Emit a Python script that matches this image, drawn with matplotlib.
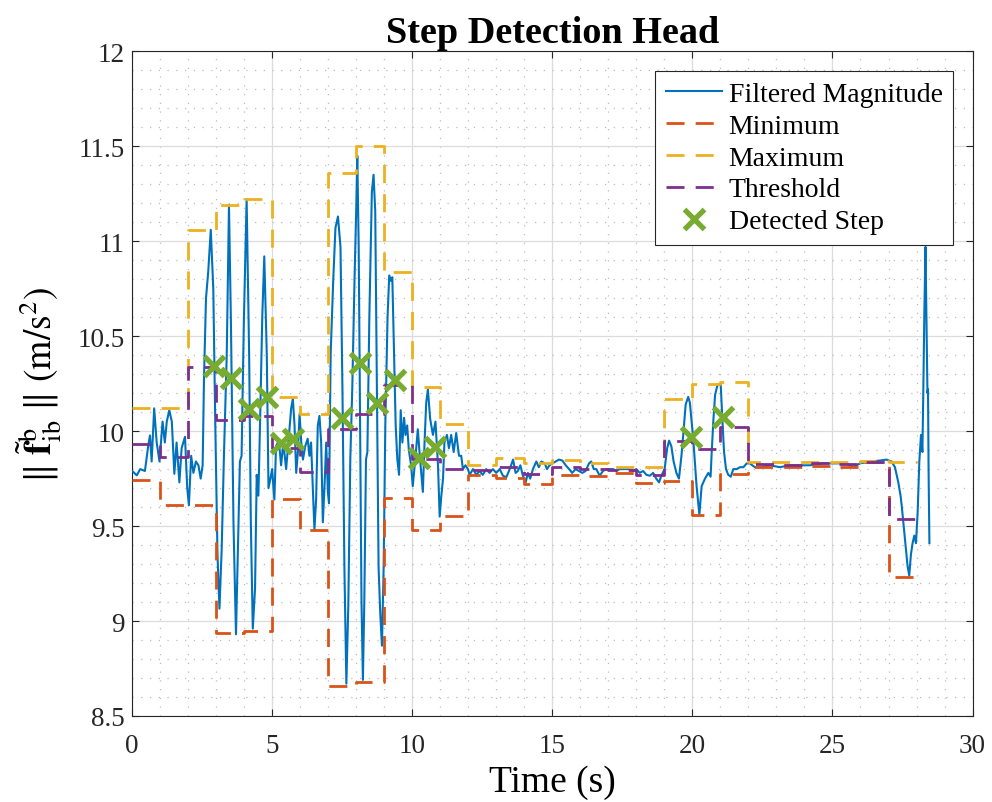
import matplotlib
matplotlib.use("Agg")
import matplotlib.pyplot as plt
from matplotlib.ticker import MultipleLocator

# ---------------- data ----------------
time_s = [0.00, 0.05, 0.17, 0.29, 0.46, 0.58, 0.64, 0.70, 0.79, 0.88, 0.98, 1.09, 1.17, 1.24, 1.33,
          1.42, 1.51, 1.59, 1.69, 1.77, 1.89, 1.97, 2.03, 2.11, 2.19, 2.28, 2.37, 2.45, 2.52, 2.57,
          2.64, 2.72, 2.81, 2.90, 2.97, 3.05, 3.12, 3.20, 3.28, 3.38, 3.46, 3.53, 3.62, 3.71, 3.80,
          3.85, 3.91, 3.99, 4.09, 4.18, 4.24, 4.31, 4.39, 4.45, 4.51, 4.57, 4.65, 4.72, 4.81, 4.87,
          4.94, 5.00, 5.08, 5.14, 5.24, 5.32, 5.40, 5.50, 5.60, 5.68, 5.74, 5.80, 5.86, 5.92, 5.98,
          6.04, 6.10, 6.18, 6.27, 6.33, 6.39, 6.45, 6.51, 6.57, 6.63, 6.69, 6.75, 6.81, 6.87, 6.93,
          6.99, 7.03, 7.09, 7.18, 7.26, 7.35, 7.44, 7.51, 7.58, 7.65, 7.72, 7.79, 7.86, 7.94, 8.00,
          8.04, 8.09, 8.14, 8.19, 8.24, 8.29, 8.35, 8.40, 8.47, 8.56, 8.62, 8.68, 8.74, 8.80, 8.86,
          8.92, 8.98, 9.04, 9.12, 9.18, 9.25, 9.29, 9.35, 9.41, 9.47, 9.53, 9.59, 9.65, 9.71, 9.76,
          9.82, 9.88, 9.96, 10.02, 10.12, 10.20, 10.26, 10.38, 10.44, 10.50, 10.56, 10.64, 10.74, 10.83,
          10.92, 10.98, 11.04, 11.10, 11.15, 11.24, 11.31, 11.39, 11.48, 11.57, 11.67, 11.75, 11.81, 11.90,
          11.99, 12.05, 12.17, 12.29, 12.40, 12.52, 12.64, 12.76, 12.88, 13.00, 13.12, 13.24, 13.36, 13.48,
          13.60, 13.69, 13.77, 13.86, 13.95, 14.05, 14.13, 14.21, 14.31, 14.43, 14.52, 14.61, 14.73, 14.81,
          14.90, 15.00, 15.12, 15.24, 15.36, 15.48, 15.60, 15.71, 15.83, 15.95, 16.07, 16.19, 16.31, 16.39,
          16.48, 16.57, 16.69, 16.81, 16.93, 17.05, 17.17, 17.29, 17.40, 17.52, 17.64, 17.76, 17.88, 18.00,
          18.12, 18.24, 18.36, 18.48, 18.60, 18.71, 18.81, 18.89, 19.01, 19.10, 19.17, 19.25, 19.33, 19.43,
          19.52, 19.61, 19.69, 19.76, 19.85, 19.91, 20.03, 20.15, 20.25, 20.33, 20.45, 20.57, 20.65, 20.69,
          20.75, 20.81, 20.89, 21.01, 21.07, 21.13, 21.20, 21.28, 21.37, 21.46, 21.58, 21.70, 21.82, 21.94,
          22.05, 22.23, 22.47, 22.77, 23.12, 23.48, 23.84, 24.19, 24.67, 25.15, 25.50, 25.74, 25.98, 26.33,
          26.69, 26.93, 27.11, 27.23, 27.35, 27.43, 27.47, 27.55, 27.62, 27.68, 27.74, 27.80, 27.86, 27.92,
          27.98, 28.04, 28.10, 28.16, 28.21, 28.24, 28.28, 28.32, 28.36, 28.39, 28.41, 28.43, 28.46]
magnitude = [9.79, 9.784, 9.767, 9.80, 9.79, 9.925, 9.977, 9.84, 10.12, 9.94, 9.84, 10.05, 9.94, 10.05, 10.11,
             10.05, 9.775, 9.94, 9.73, 9.91, 9.97, 9.70, 9.61, 9.87, 9.78, 9.84, 9.82, 9.75, 9.82, 10.29,
             10.70, 10.84, 11.06, 10.75, 10.05, 9.35, 9.065, 9.38, 9.87, 10.40, 11.19, 10.57, 9.52, 8.93, 9.52,
             9.84, 9.87, 10.57, 11.22, 10.40, 9.52, 8.96, 9.17, 9.77, 9.66, 10.05, 10.61, 10.92, 10.40, 9.70,
             9.75, 9.80, 9.64, 9.92, 9.95, 9.82, 9.94, 9.80, 9.975, 10.12, 10.17, 10.03, 9.78, 9.89, 10.09,
             9.94, 9.85, 9.92, 9.96, 9.87, 9.94, 9.71, 9.48, 9.64, 10.03, 10.08, 9.94, 9.52, 9.71, 9.94,
             9.68, 9.62, 10.41, 10.79, 11.07, 11.13, 10.97, 10.22, 9.28, 8.67, 9.09, 9.85, 10.22, 10.79, 11.16,
             11.45, 10.97, 10.03, 9.10, 8.69, 9.10, 9.85, 9.89, 10.60, 11.26, 11.35, 11.16, 10.22, 9.28, 9.04,
             8.87, 9.28, 10.03, 10.60, 10.82, 10.79, 10.81, 10.41, 10.03, 9.85, 9.77, 10.11, 9.94, 10.07, 9.98,
             10.03, 9.90, 9.82, 9.71, 9.87, 10.01, 9.89, 9.68, 9.94, 10.15, 10.22, 10.065, 9.98, 10.05,
             9.82, 9.55, 9.66, 9.75, 9.94, 9.98, 9.91, 9.98, 9.89, 9.99, 9.87, 9.87, 9.80, 9.82,
             9.80, 9.77, 9.80, 9.77, 9.79, 9.77, 9.80, 9.78, 9.80, 9.78, 9.80, 9.765, 9.757, 9.80,
             9.85, 9.78, 9.79, 9.82, 9.765, 9.73, 9.78, 9.75, 9.80, 9.84, 9.81, 9.84, 9.83, 9.80,
             9.82, 9.83, 9.84, 9.85, 9.845, 9.82, 9.80, 9.78, 9.80, 9.79, 9.78, 9.79, 9.83, 9.84,
             9.80, 9.80, 9.765, 9.79, 9.80, 9.80, 9.80, 9.79, 9.80, 9.80, 9.80, 9.80, 9.79, 9.80,
             9.78, 9.79, 9.77, 9.765, 9.78, 9.75, 9.73, 9.765, 9.80, 9.91, 9.95, 9.92, 9.84, 9.78,
             9.75, 9.87, 10.01, 10.14, 10.18, 10.15, 9.96, 9.71, 9.56, 9.71, 9.75, 9.78, 9.76, 9.89,
             10.06, 10.19, 10.24, 10.25, 10.06, 9.89, 9.80, 9.77, 9.76, 9.80, 9.80, 9.81, 9.81, 9.83,
             9.83, 9.81, 9.81, 9.82, 9.81, 9.82, 9.82, 9.82, 9.83, 9.83, 9.83, 9.81, 9.83, 9.84,
             9.845, 9.85, 9.84, 9.81, 9.73, 9.66, 9.61, 9.49, 9.38, 9.29, 9.24, 9.35, 9.41, 9.45,
             9.41, 9.57, 9.84, 9.98, 9.89, 10.19, 10.63, 10.97, 10.54, 10.20, 10.22, 9.80, 9.41]

window_edges = list(range(0, 29))  # one-second windows
minimum = [9.745, 9.61, 9.61, 8.935, 8.945, 9.64, 9.48, 8.66, 8.68, 9.65, 9.48, 9.555, 9.77, 9.755,
           9.72, 9.77, 9.765, 9.78, 9.725, 9.735, 9.56, 9.775, 9.81, 9.81, 9.815, 9.81, 9.835, 9.23]
maximum = [10.12, 10.12, 11.06, 11.19, 11.22, 10.18, 10.09, 11.36, 11.50, 10.84, 10.23, 10.04, 9.82, 9.86,
           9.83, 9.85, 9.83, 9.81, 9.81, 10.17, 10.25, 10.26, 9.84, 9.835, 9.84, 9.84, 9.845, 9.84]
threshold = [9.93, 9.865, 10.335, 10.06, 10.08, 9.91, 9.785, 10.01, 10.09, 10.245, 9.855, 9.80, 9.795, 9.81,
             9.775, 9.81, 9.80, 9.795, 9.77, 9.95, 9.905, 10.02, 9.825, 9.82, 9.83, 9.825, 9.84, 9.535]

step_time = [2.93, 3.55, 4.18, 4.80, 5.32, 5.74, 7.50, 8.12, 8.74, 9.37, 10.26, 10.80, 19.96, 21.10]
step_value = [10.345, 10.28, 10.115, 10.18, 9.94, 9.96, 10.07, 10.36, 10.15, 10.27, 9.856, 9.914, 9.97, 10.073]

x_ticks = [0, 5, 10, 15, 20, 25, 30]
y_ticks = [8.5, 9, 9.5, 10, 10.5, 11, 11.5, 12]
y_tick_labels = ["8.5", "9", "9.5", "10", "10.5", "11", "11.5", "12"]

# ---------------- styling ----------------
plt.rcParams['font.family'] = ['Liberation Serif', 'DejaVu Serif']
plt.rcParams['mathtext.fontset'] = 'stix'

c_blue = '#0072BD'
c_orange = '#D95319'
c_yellow = '#EDB120'
c_purple = '#7E2F8E'
c_green = '#77AC30'

fig = plt.figure(figsize=(9.92, 8.03), dpi=100)
ax = fig.add_axes([0.1331, 0.1071, 0.8473, 0.8278])

dash = (0, (6.5, 4.0))
lw_d = 2.0


def stairs_xy(edges, vals):
    return list(edges), list(vals) + [vals[-1]]


ax.plot(time_s, magnitude, color=c_blue, lw=1.5, label='Filtered Magnitude', zorder=3)
sx, sy = stairs_xy(window_edges, minimum)
ax.plot(sx, sy, drawstyle='steps-post', color=c_orange, lw=lw_d, linestyle=dash, label='Minimum', zorder=4)
sx, sy = stairs_xy(window_edges, maximum)
ax.plot(sx, sy, drawstyle='steps-post', color=c_yellow, lw=lw_d, linestyle=dash, label='Maximum', zorder=4)
sx, sy = stairs_xy(window_edges, threshold)
ax.plot(sx, sy, drawstyle='steps-post', color=c_purple, lw=lw_d, linestyle=dash, label='Threshold', zorder=4)
ax.plot(step_time, step_value, linestyle='none', marker='x', markersize=14, markeredgewidth=3.8,
        color=c_green, label='Detected Step', zorder=5)

ax.set_xlim(0, 30)
ax.set_ylim(8.5, 12)
ax.set_xticks(x_ticks)
ax.set_xticklabels([str(v) for v in x_ticks])
ax.set_yticks(y_ticks)
ax.set_yticklabels(y_tick_labels)
ax.xaxis.set_minor_locator(MultipleLocator(1))
ax.yaxis.set_minor_locator(MultipleLocator(0.1))

ax.grid(which='major', color='#dcdcdc', lw=0.9, linestyle='-', zorder=0)
ax.grid(which='minor', color='#bdbdbd', lw=0.9, linestyle=(0, (1, 6)), zorder=0)
ax.set_axisbelow(True)

ax.tick_params(which='major', direction='in', length=5, width=0.8, top=True, right=True,
               labelsize=19.5, colors='#262626', labelcolor='#262626')
ax.tick_params(axis='x', which='major', pad=12)
ax.tick_params(axis='y', which='major', pad=5)
ax.tick_params(which='minor', length=0, top=True, right=True)
for s in ax.spines.values():
    s.set_color('#262626')
    s.set_linewidth(0.8)

ax.set_xlabel('Time (s)', fontsize=27, labelpad=5)
ax.set_ylabel(r'$\Vert\ \tilde{\mathbf{f}}_{\mathrm{ib}}^{\mathrm{b}}\ \Vert\ (\mathrm{m/s^2})$', fontsize=27, labelpad=10)
ax.set_title('Step Detection Head', fontsize=27.5, fontweight='bold', pad=7)

leg = ax.legend(loc='upper right', bbox_to_anchor=(0.9768, 0.9704), borderaxespad=0, fontsize=20,
                handlelength=2.0, handletextpad=0.25, labelspacing=0.23, borderpad=0.38,
                frameon=True, fancybox=False, framealpha=1, edgecolor='#262626', numpoints=1)
leg.get_frame().set_linewidth(0.8)

fig.savefig('out.png', dpi=100, facecolor='white')
